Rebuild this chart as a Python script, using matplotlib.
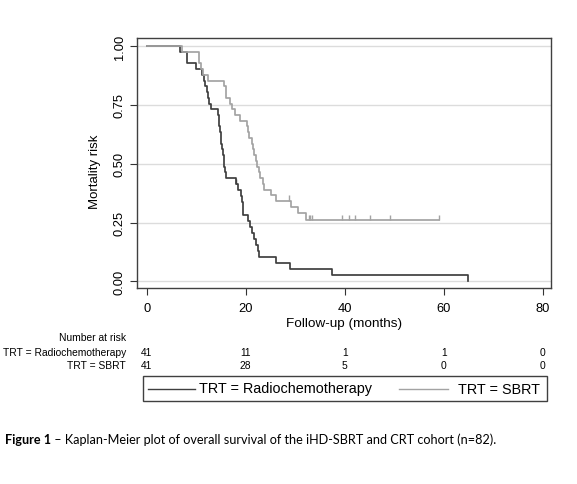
import numpy as np
import matplotlib
matplotlib.use("Agg")
import matplotlib.pyplot as plt
from matplotlib.patches import Rectangle
from matplotlib.lines import Line2D
import matplotlib.transforms as mtransforms

# ---------------- data ----------------
groups = ["TRT = Radiochemotherapy", "TRT = SBRT"]

times_rc = [0, 6.8, 8.2, 10.0, 11.2, 11.5, 11.8, 12.1, 12.3, 12.6, 12.9,
            14.5, 14.6, 14.7, 14.8, 15.0, 15.1, 15.3, 15.4, 15.6, 15.7, 15.8, 16.0,
            18.0, 18.5, 19.1, 19.3, 19.4, 19.5,
            20.5, 20.9, 21.3, 21.7, 22.0, 22.4, 22.7,
            26.1, 29.0, 37.5, 65.0]
surv_rc = [1.0, 0.976, 0.927, 0.902, 0.878, 0.854, 0.829, 0.805, 0.780, 0.756, 0.732,
           0.707, 0.683, 0.659, 0.634, 0.610, 0.585, 0.561, 0.537, 0.512, 0.488, 0.463, 0.439,
           0.413, 0.387, 0.362, 0.336, 0.310, 0.284,
           0.258, 0.232, 0.207, 0.181, 0.155, 0.129, 0.103,
           0.077, 0.052, 0.026, 0.0]
censor_rc = [18.0]
end_rc = 65.0

times_sb = [0, 7.1, 10.5, 10.6, 10.9, 11.4, 12.4,
            15.7, 16.0, 16.1, 16.8, 17.3, 17.8, 18.8,
            20.3, 20.5, 20.7, 21.2, 21.4, 21.6, 22.0, 22.3, 22.6, 22.8,
            23.6, 23.8, 25.1, 26.2, 29.2, 30.6, 32.1]
surv_sb = [1.0, 0.976, 0.951, 0.927, 0.902, 0.878, 0.854,
           0.829, 0.805, 0.780, 0.756, 0.732, 0.707, 0.683,
           0.659, 0.634, 0.610, 0.585, 0.561, 0.537, 0.512, 0.488, 0.463, 0.439,
           0.415, 0.390, 0.366, 0.341, 0.315, 0.289, 0.260]
censor_sb = [28.7, 32.8, 33.1, 33.5, 39.5, 40.9, 42.1, 45.1, 49.2, 59.1]
end_sb = 59.1

risk_times = [0, 20, 40, 60, 80]
risk_rc = [41, 11, 1, 1, 0]
risk_sb = [41, 28, 5, 0, 0]

x_ticks = [0, 20, 40, 60, 80]
y_ticks = [0.00, 0.25, 0.50, 0.75, 1.00]

caption_bold = "Figure 1"
caption_rest = " \u2013 Kaplan-Meier plot of overall survival of the iHD-SBRT and CRT cohort (n=82)."

# ---------------- figure ----------------
W, H = 577, 485
plt.rcParams["font.family"] = ["Liberation Sans", "DejaVu Sans"]
fig = plt.figure(figsize=(W / 100, H / 100), dpi=100)
fig.patch.set_facecolor("white")

ax = fig.add_axes([137 / W, 1 - 289 / H, 414 / W, 250 / H])
ax.set_xlim(-1.96, 81.7)
ax.set_ylim(-0.0285, 1.035)

dark = "#3f3f3f"
light = "#a3a3a3"

ax.set_yticks(y_ticks)
ax.set_yticklabels(["%.2f" % v for v in y_ticks], rotation=90, va="center")
ax.set_xticks(x_ticks)
ax.set_xticklabels([str(v) for v in x_ticks])
ax.tick_params(axis="both", length=5, width=0.8, color="#333333",
               labelsize=9.3, labelcolor="black")
ax.tick_params(axis="y", pad=3)
ax.tick_params(axis="x", pad=5)
for s in ax.spines.values():
    s.set_color("#404040")
    s.set_linewidth(1.0)

for v in y_ticks:
    ax.axhline(v, color="#dcdcdc", lw=1.0, zorder=0)


def draw_curve(t, s, end, censor, color):
    t = list(t)
    s = list(s)
    if end > t[-1]:
        t = t + [end]
        s = s + [s[-1]]
    ax.step(t, s, where="post", color=color, lw=1.25, zorder=3)
    tt = np.array(t)
    ss = np.array(s)
    for c in censor:
        i = np.searchsorted(tt, c, side="right") - 1
        ax.vlines(c, ss[i], ss[i] + 0.024, color=color, lw=1.0, zorder=3)


draw_curve(times_rc, surv_rc, end_rc, censor_rc, dark)
draw_curve(times_sb, surv_sb, end_sb, censor_sb, light)

ax.set_xlabel("Follow-up (months)", fontsize=9.7, labelpad=2)
ax.set_ylabel("Mortality risk", fontsize=9.5)
ax.yaxis.set_label_coords(-0.087, 0.47)


def fy(py):
    return 1 - py / H


def fx(px):
    return px / W


# ---------------- risk table ----------------
tsz = 7.4
blend = mtransforms.blended_transform_factory(ax.transData, fig.transFigure)
fig.text(fx(126), fy(337.7), "Number at risk", ha="right", va="center", fontsize=tsz)
fig.text(fx(126), fy(353.3), groups[0], ha="right", va="center", fontsize=tsz)
fig.text(fx(126), fy(365.7), groups[1], ha="right", va="center", fontsize=tsz)
for t, a, b in zip(risk_times, risk_rc, risk_sb):
    fig.text(t, fy(353.3), str(a), ha="center", va="center", fontsize=tsz, transform=blend)
    fig.text(t, fy(365.7), str(b), ha="center", va="center", fontsize=tsz, transform=blend)

# ---------------- legend ----------------
fig.add_artist(Rectangle((fx(142.7), fy(402.3)), fx(546.7) - fx(142.7), fy(376.7) - fy(402.3),
                         transform=fig.transFigure, fill=False, edgecolor="#404040", lw=1.0))
ly = fy(389.5)
fig.add_artist(Line2D([fx(148.3), fx(195)], [ly, ly], transform=fig.transFigure, color=dark, lw=1.0))
fig.text(fx(199.3), ly, groups[0], ha="left", va="center", fontsize=10.4)
fig.add_artist(Line2D([fx(399.3), fx(448.3)], [ly, ly], transform=fig.transFigure, color=light, lw=1.0))
fig.text(fx(540), ly, groups[1], ha="right", va="center", fontsize=10.4)

# ---------------- caption ----------------
cap_fs = 10.5
t1 = fig.text(fx(5), fy(440), caption_bold, ha="left", va="center", fontsize=cap_fs,
              fontweight="bold", family="Lato")
fig.canvas.draw()
r = fig.canvas.get_renderer()
bb1 = t1.get_window_extent(r)
t2 = fig.text(bb1.x1 / W, fy(440), caption_rest, ha="left", va="center", fontsize=cap_fs,
              family="Lato")
fig.canvas.draw()
bb2 = t2.get_window_extent(r)
scale = (497 - 5) / (bb2.x1 - bb1.x0)
t1.set_fontsize(cap_fs * scale)
t2.set_fontsize(cap_fs * scale)
fig.canvas.draw()
bb1 = t1.get_window_extent(r)
t2.set_x(bb1.x1 / W)

fig.savefig("out.png", dpi=100, facecolor="white")
